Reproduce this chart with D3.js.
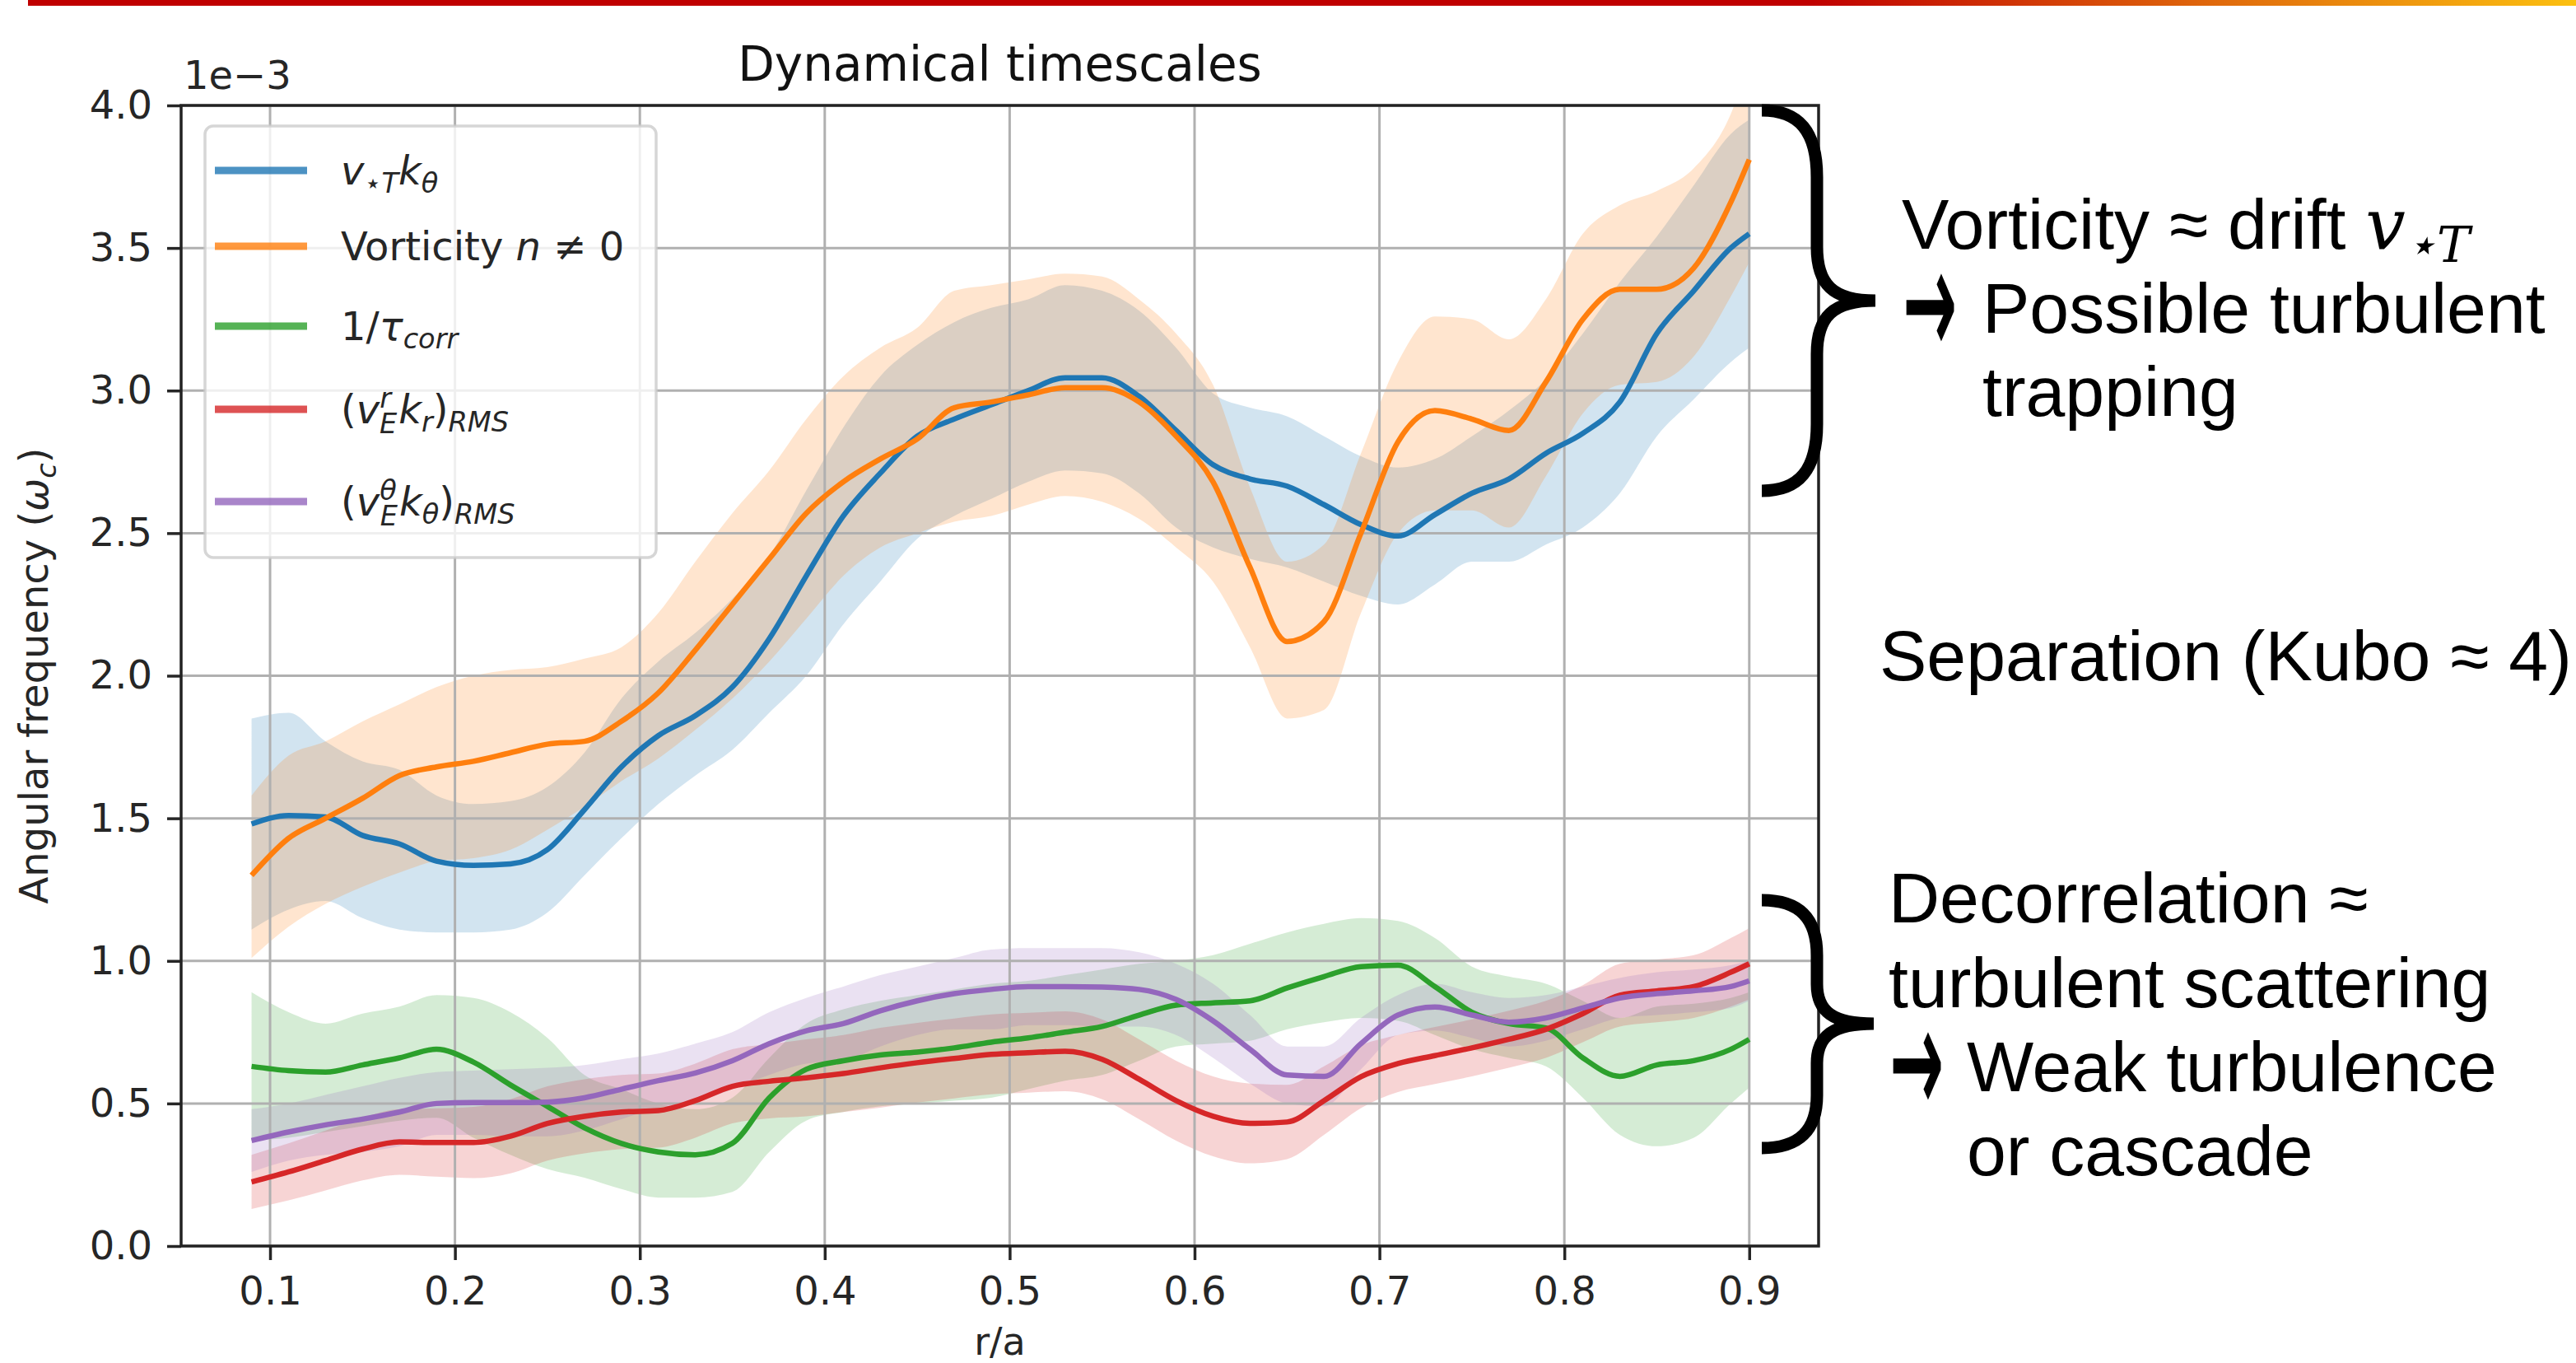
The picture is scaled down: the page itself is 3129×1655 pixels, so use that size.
<!DOCTYPE html>
<html>
<head>
<meta charset="utf-8">
<script src="https://cdn.jsdelivr.net/npm/d3@7"></script>
<style>
  body { margin: 0; background: #fff; }
  svg { display: block; }
</style>
</head>
<body>
<script>
// Chart size and plot box (pixels)
var svgWidth = 3129;
var svgHeight = 1655;
var plot = { left: 220, right: 2209, top: 128, bottom: 1513 };

// radial position r/a, shared by every series
var rPos = [0.09, 0.11, 0.13, 0.15, 0.17, 0.19, 0.21, 0.23, 0.25, 0.27, 0.29, 0.31, 0.33, 0.35,
  0.37, 0.39, 0.41, 0.43, 0.45, 0.47, 0.49, 0.51, 0.53, 0.55, 0.57, 0.59, 0.61, 0.63,
  0.65, 0.67, 0.69, 0.71, 0.73, 0.75, 0.77, 0.79, 0.81, 0.83, 0.85, 0.87, 0.89, 0.90];

// v*T k_theta (units of 1e-3)
var vstarMean = [1.48, 1.51, 1.505, 1.44, 1.41, 1.35, 1.335, 1.34, 1.39, 1.53, 1.68, 1.79, 1.86, 1.96,
  2.13, 2.35, 2.56, 2.71, 2.84, 2.90, 2.95, 3.00, 3.045, 3.045, 2.98, 2.86, 2.74, 2.69,
  2.665, 2.60, 2.53, 2.49, 2.565, 2.64, 2.69, 2.78, 2.85, 2.96, 3.20, 3.35, 3.50, 3.55];
var vstarLow = [1.11, 1.18, 1.21, 1.15, 1.11, 1.10, 1.10, 1.11, 1.17, 1.30, 1.43, 1.55, 1.65, 1.74,
  1.87, 2.0, 2.18, 2.33, 2.48, 2.56, 2.62, 2.68, 2.72, 2.71, 2.64, 2.52, 2.45, 2.41,
  2.38, 2.33, 2.28, 2.25, 2.32, 2.40, 2.40, 2.46, 2.52, 2.64, 2.84, 2.97, 3.10, 3.15];
var vstarHigh = [1.85, 1.87, 1.77, 1.70, 1.67, 1.58, 1.55, 1.56, 1.61, 1.73, 1.92, 2.05, 2.15, 2.27,
  2.42, 2.65, 2.87, 3.05, 3.16, 3.24, 3.29, 3.32, 3.37, 3.35, 3.28, 3.15, 2.99, 2.94,
  2.91, 2.84, 2.77, 2.73, 2.76, 2.84, 2.93, 3.04, 3.20, 3.38, 3.54, 3.72, 3.90, 3.95];

// Vorticity n != 0
var vortMean = [1.30, 1.43, 1.50, 1.57, 1.65, 1.68, 1.70, 1.73, 1.76, 1.77, 1.84, 1.94, 2.09, 2.25,
  2.41, 2.57, 2.68, 2.76, 2.83, 2.94, 2.96, 2.985, 3.01, 3.01, 2.96, 2.84, 2.68, 2.38,
  2.12, 2.19, 2.50, 2.82, 2.93, 2.90, 2.86, 3.03, 3.25, 3.355, 3.355, 3.43, 3.66, 3.81];
var vortLow = [1.01, 1.12, 1.20, 1.26, 1.31, 1.35, 1.36, 1.39, 1.46, 1.54, 1.63, 1.71, 1.81, 1.92,
  2.05, 2.20, 2.35, 2.45, 2.50, 2.54, 2.56, 2.60, 2.63, 2.61, 2.55, 2.45, 2.33, 2.10,
  1.85, 1.88, 2.22, 2.50, 2.58, 2.58, 2.52, 2.70, 2.92, 3.02, 3.03, 3.12, 3.33, 3.45];
var vortHigh = [1.58, 1.72, 1.77, 1.84, 1.90, 1.96, 2.0, 2.02, 2.03, 2.06, 2.10, 2.22, 2.40, 2.57,
  2.72, 2.90, 3.05, 3.15, 3.22, 3.35, 3.37, 3.39, 3.41, 3.40, 3.32, 3.20, 3.02, 2.66,
  2.40, 2.46, 2.78, 3.10, 3.26, 3.25, 3.18, 3.32, 3.55, 3.65, 3.70, 3.78, 3.97, 4.15];

// 1/tau_corr
var corrMean = [0.63, 0.615, 0.61, 0.635, 0.66, 0.69, 0.645, 0.565, 0.49, 0.415, 0.36, 0.33, 0.32, 0.36,
  0.52, 0.62, 0.65, 0.67, 0.68, 0.695, 0.715, 0.73, 0.75, 0.77, 0.81, 0.845, 0.853, 0.86,
  0.905, 0.945, 0.98, 0.985, 0.91, 0.82, 0.78, 0.765, 0.66, 0.595, 0.635, 0.65, 0.69, 0.725];
var corrLow = [0.37, 0.38, 0.40, 0.42, 0.44, 0.45, 0.38, 0.32, 0.27, 0.24, 0.20, 0.17, 0.17, 0.19,
  0.33, 0.44, 0.47, 0.49, 0.50, 0.51, 0.52, 0.55, 0.58, 0.60, 0.65, 0.70, 0.71, 0.72,
  0.76, 0.785, 0.80, 0.79, 0.74, 0.69, 0.66, 0.63, 0.52, 0.39, 0.35, 0.38, 0.50, 0.555];
var corrHigh = [0.89, 0.82, 0.78, 0.815, 0.84, 0.88, 0.87, 0.82, 0.73, 0.60, 0.55, 0.50, 0.48, 0.52,
  0.66, 0.78, 0.83, 0.86, 0.88, 0.90, 0.92, 0.93, 0.95, 0.97, 0.99, 1.0, 1.02, 1.06,
  1.10, 1.13, 1.15, 1.14, 1.08, 0.98, 0.945, 0.92, 0.86, 0.80, 0.84, 0.85, 0.87, 0.89];

// (v_E^r k_r)_RMS
var vrMean = [0.225, 0.26, 0.30, 0.34, 0.365, 0.363, 0.363, 0.385, 0.43, 0.455, 0.47, 0.475, 0.51, 0.56,
  0.578, 0.59, 0.605, 0.625, 0.643, 0.658, 0.672, 0.678, 0.683, 0.655, 0.585, 0.51, 0.455, 0.43,
  0.435, 0.51, 0.594, 0.64, 0.668, 0.695, 0.725, 0.76, 0.815, 0.88, 0.895, 0.91, 0.96, 0.99];
var vrLow = [0.13, 0.16, 0.195, 0.23, 0.25, 0.243, 0.238, 0.255, 0.30, 0.325, 0.34, 0.345, 0.38, 0.43,
  0.448, 0.455, 0.47, 0.485, 0.503, 0.518, 0.532, 0.538, 0.543, 0.515, 0.445, 0.37, 0.315, 0.29,
  0.305, 0.39, 0.484, 0.54, 0.568, 0.595, 0.625, 0.66, 0.715, 0.77, 0.785, 0.80, 0.84, 0.865];
var vrHigh = [0.32, 0.36, 0.405, 0.45, 0.48, 0.483, 0.488, 0.515, 0.56, 0.585, 0.60, 0.605, 0.64, 0.69,
  0.708, 0.725, 0.74, 0.765, 0.783, 0.798, 0.812, 0.818, 0.823, 0.795, 0.725, 0.65, 0.595, 0.57,
  0.565, 0.63, 0.704, 0.74, 0.768, 0.795, 0.825, 0.86, 0.915, 0.99, 1.005, 1.02, 1.08, 1.115];

// (v_E^theta k_theta)_RMS
var vthMean = [0.37, 0.40, 0.425, 0.445, 0.47, 0.50, 0.503, 0.503, 0.505, 0.52, 0.55, 0.58, 0.607, 0.65,
  0.71, 0.755, 0.78, 0.825, 0.86, 0.885, 0.90, 0.91, 0.91, 0.908, 0.90, 0.865, 0.79, 0.69,
  0.60, 0.595, 0.71, 0.81, 0.838, 0.81, 0.785, 0.80, 0.835, 0.87, 0.885, 0.895, 0.91, 0.93];
var vthLow = [0.26, 0.30, 0.32, 0.33, 0.35, 0.39, 0.39, 0.385, 0.385, 0.405, 0.445, 0.485, 0.505, 0.55,
  0.60, 0.64, 0.65, 0.70, 0.74, 0.76, 0.76, 0.775, 0.775, 0.77, 0.77, 0.74, 0.66, 0.57,
  0.50, 0.49, 0.62, 0.74, 0.756, 0.73, 0.70, 0.72, 0.76, 0.80, 0.81, 0.82, 0.835, 0.86];
var vthHigh = [0.48, 0.50, 0.53, 0.56, 0.59, 0.61, 0.615, 0.62, 0.625, 0.635, 0.655, 0.675, 0.71, 0.75,
  0.82, 0.87, 0.91, 0.95, 0.98, 1.01, 1.04, 1.045, 1.045, 1.045, 1.03, 0.99, 0.92, 0.81,
  0.70, 0.70, 0.80, 0.88, 0.92, 0.89, 0.87, 0.88, 0.91, 0.94, 0.96, 0.97, 0.985, 1.0];

// tick labels
var xTicks = [0.1, 0.2, 0.3, 0.4, 0.5, 0.6, 0.7, 0.8, 0.9];
var yTicks = [0, 0.5, 1.0, 1.5, 2.0, 2.5, 3.0, 3.5, 4.0];

var series = [
  { mean: vstarMean, low: vstarLow, high: vstarHigh, color: "#1f77b4" },
  { mean: vortMean, low: vortLow, high: vortHigh, color: "#ff7f0e" },
  { mean: corrMean, low: corrLow, high: corrHigh, color: "#2ca02c" },
  { mean: vrMean, low: vrLow, high: vrHigh, color: "#d62728" },
  { mean: vthMean, low: vthLow, high: vthHigh, color: "#9467bd" }
];

var tickFont = "DejaVu Sans, sans-serif";
var noteFont = "Liberation Sans, Arial, sans-serif";
var ink = "#262626";

var svg = d3.select("body")
  .append("svg")
  .attr("width", svgWidth)
  .attr("height", svgHeight);

svg.append("rect").attr("width", svgWidth).attr("height", svgHeight).attr("fill", "#fff");

var defs = svg.append("defs");
var grad = defs.append("linearGradient").attr("id", "topbar");
grad.append("stop").attr("offset", "0").attr("stop-color", "#c00000");
grad.append("stop").attr("offset", "0.70").attr("stop-color", "#c00000");
grad.append("stop").attr("offset", "0.86").attr("stop-color", "#e06a0c");
grad.append("stop").attr("offset", "1").attr("stop-color", "#fcc010");

defs.append("clipPath").attr("id", "plotclip")
  .append("rect")
  .attr("x", plot.left).attr("y", plot.top)
  .attr("width", plot.right - plot.left)
  .attr("height", plot.bottom - plot.top);

// slide header bar
svg.append("rect")
  .attr("x", 34).attr("y", 0)
  .attr("width", svgWidth - 34).attr("height", 7)
  .attr("fill", "url(#topbar)");

// scales
var x = d3.scaleLinear().domain([0.0519, 0.9375]).range([plot.left, plot.right]);
var y = d3.scaleLinear().domain([0, 4]).range([plot.bottom, plot.top]);

var area = d3.area()
  .x(d => x(d.r))
  .y0(d => y(d.lo))
  .y1(d => y(d.hi))
  .curve(d3.curveMonotoneX);

var line = d3.line()
  .x(d => x(d.r))
  .y(d => y(d.m))
  .curve(d3.curveMonotoneX);

function rows(s) {
  return rPos.map(function(r, i) {
    return { r: r, m: s.mean[i], lo: s.low[i], hi: s.high[i] };
  });
}

var chartGroup = svg.append("g").attr("clip-path", "url(#plotclip)");

// shaded spread bands
series.forEach(function(s) {
  chartGroup.append("path")
    .attr("d", area(rows(s)))
    .attr("fill", s.color)
    .attr("fill-opacity", 0.2);
});

// grid sits above the bands but under the lines
var gridGroup = chartGroup.append("g");
gridGroup.selectAll(".gx")
  .data(xTicks)
  .enter()
  .append("line")
  .attr("x1", d => x(d)).attr("x2", d => x(d))
  .attr("y1", plot.top).attr("y2", plot.bottom)
  .attr("stroke", "#b0b0b0").attr("stroke-width", 3);
gridGroup.selectAll(".gy")
  .data(yTicks)
  .enter()
  .append("line")
  .attr("x1", plot.left).attr("x2", plot.right)
  .attr("y1", d => y(d)).attr("y2", d => y(d))
  .attr("stroke", "#b0b0b0").attr("stroke-width", 3);

series.forEach(function(s) {
  chartGroup.append("path")
    .attr("d", line(rows(s)))
    .attr("fill", "none")
    .attr("stroke", s.color)
    .attr("stroke-width", 6.5);
});

// axes
var xAxis = svg.append("g")
  .attr("transform", `translate(0, ${plot.bottom})`)
  .call(d3.axisBottom(x).tickValues(xTicks).tickSize(17).tickPadding(20).tickFormat(d3.format(".1f")));
var yAxis = svg.append("g")
  .attr("transform", `translate(${plot.left}, 0)`)
  .call(d3.axisLeft(y).tickValues(yTicks).tickSize(17).tickPadding(18).tickFormat(d3.format(".1f")));

[xAxis, yAxis].forEach(function(ax) {
  ax.select(".domain").remove();
  ax.selectAll("line").attr("stroke", ink).attr("stroke-width", 3.5);
  ax.selectAll("text")
    .attr("font-family", tickFont)
    .attr("font-size", 48)
    .attr("fill", ink);
});

// spines
svg.append("rect")
  .attr("x", plot.left).attr("y", plot.top)
  .attr("width", plot.right - plot.left)
  .attr("height", plot.bottom - plot.top)
  .attr("fill", "none")
  .attr("stroke", "#222")
  .attr("stroke-width", 3.5);

// writes a label made of parts, shifting baseline for sub / superscripts
function mathText(sel, parts, size) {
  var cur = 0;
  parts.forEach(function(p) {
    var sh = p.s || 0;
    var ts = sel.append("tspan").text(p.t).attr("dy", sh - cur);
    cur = sh;
    if (p.i) ts.attr("font-style", "italic");
    if (p.sm) ts.attr("font-size", size * 0.7);
    if (p.dx) ts.attr("dx", p.dx);
    if (p.f) ts.attr("font-family", p.f);
  });
}

// title, offset text, axis labels
svg.append("text")
  .attr("x", (plot.left + plot.right) / 2).attr("y", 98)
  .attr("text-anchor", "middle")
  .attr("font-family", tickFont).attr("font-size", 58).attr("fill", "#111")
  .text("Dynamical timescales");

svg.append("text")
  .attr("x", 223).attr("y", 108)
  .attr("font-family", tickFont).attr("font-size", 48).attr("fill", ink)
  .text("1e\u22123");

svg.append("text")
  .attr("x", (plot.left + plot.right) / 2).attr("y", 1645)
  .attr("text-anchor", "middle")
  .attr("font-family", tickFont).attr("font-size", 46).attr("fill", ink)
  .text("r/a");

var yLabel = svg.append("text")
  .attr("transform", `translate(58, ${(plot.top + plot.bottom) / 2}) rotate(-90)`)
  .attr("text-anchor", "middle")
  .attr("font-family", tickFont).attr("font-size", 48).attr("fill", ink);
mathText(yLabel, [
  { t: "Angular frequency (" }, { t: "\u03c9", i: 1 }, { t: "c", i: 1, sm: 1, s: 10 }, { t: ")", s: 0 }
], 48);

// legend
var legendRows = [
  { y: 207, parts: [{ t: "v", i: 1 }, { t: "\u22c6T", i: 1, sm: 1, s: 10 }, { t: "k", i: 1, s: 0 }, { t: "\u03b8", i: 1, sm: 1, s: 10 }] },
  { y: 299, parts: [{ t: "Vorticity " }, { t: "n", i: 1 }, { t: " \u2260 0" }] },
  { y: 396, parts: [{ t: "1/" }, { t: "\u03c4", i: 1 }, { t: "corr", i: 1, sm: 1, s: 10 }] },
  { y: 497, parts: [{ t: "(" }, { t: "v", i: 1 }, { t: "r", i: 1, sm: 1, s: -19 }, { t: "E", i: 1, sm: 1, s: 12, dx: -14 },
    { t: "k", i: 1, s: 0, dx: 2 }, { t: "r", i: 1, sm: 1, s: 10 }, { t: ")", s: 0 }, { t: "RMS", i: 1, sm: 1, s: 10 }] },
  { y: 609, parts: [{ t: "(" }, { t: "v", i: 1 }, { t: "\u03b8", i: 1, sm: 1, s: -19 }, { t: "E", i: 1, sm: 1, s: 12, dx: -20 },
    { t: "k", i: 1, s: 0, dx: 2 }, { t: "\u03b8", i: 1, sm: 1, s: 10 }, { t: ")", s: 0 }, { t: "RMS", i: 1, sm: 1, s: 10 }] }
];

var legend = svg.append("g");
legend.append("rect")
  .attr("x", 249).attr("y", 153)
  .attr("width", 548).attr("height", 524)
  .attr("rx", 10)
  .attr("fill", "#fff").attr("fill-opacity", 0.8)
  .attr("stroke", "#cccccc").attr("stroke-opacity", 0.8)
  .attr("stroke-width", 3.5);

legendRows.forEach(function(row, i) {
  legend.append("line")
    .attr("x1", 261).attr("x2", 373)
    .attr("y1", row.y).attr("y2", row.y)
    .attr("stroke", series[i].color)
    .attr("stroke-opacity", 0.8)
    .attr("stroke-width", 9);
  var t = legend.append("text")
    .attr("x", 414).attr("y", row.y + 17)
    .attr("font-family", tickFont).attr("font-size", 48).attr("fill", ink);
  mathText(t, row.parts, 48);
});

// annotations at the right
var braces = [
  "M2140,134 C2186,134 2207,160 2207,215 L2207,300 C2207,345 2226,365 2278,365 C2226,365 2207,385 2207,430 L2207,515 C2207,570 2186,596 2140,596",
  "M2140,1093 C2186,1093 2207,1115 2207,1160 L2207,1195 C2207,1228 2226,1243 2276,1243 C2226,1243 2207,1258 2207,1291 L2207,1330 C2207,1372 2186,1394 2140,1394"
];
svg.selectAll(".brace")
  .data(braces)
  .enter()
  .append("path")
  .attr("d", d => d)
  .attr("fill", "none")
  .attr("stroke", "#000")
  .attr("stroke-width", 15);

var notes = [
  { x: 2310, y: 302, text: "Vorticity \u2248 drift " },
  { x: 2408, y: 404, text: "Possible turbulent" },
  { x: 2408, y: 505, text: "trapping" },
  { x: 2283, y: 826, text: "Separation (Kubo \u2248 4)" },
  { x: 2294, y: 1120, text: "Decorrelation \u2248" },
  { x: 2294, y: 1223, text: "turbulent scattering" },
  { x: 2389, y: 1325, text: "Weak turbulence" },
  { x: 2389, y: 1427, text: "or cascade" }
];

var noteSel = svg.selectAll(".note")
  .data(notes)
  .enter()
  .append("text")
  .attr("x", d => d.x).attr("y", d => d.y)
  .attr("font-family", noteFont).attr("font-size", 86).attr("fill", "#000")
  .text(d => d.text);

// big arrows in front of the conclusions, stretched to the slide's glyph shape
var arrows = [{ x: 2312, y: 404 }, { x: 2296, y: 1325 }];
svg.selectAll(".arrow")
  .data(arrows)
  .enter()
  .append("text")
  .attr("transform", d => `translate(${d.x}, ${d.y + 26}) scale(0.7, 1.65)`)
  .attr("font-family", tickFont)
  .attr("font-size", 110).attr("fill", "#000")
  .attr("stroke", "#000").attr("stroke-width", 2)
  .text("\u2192");

// v_{*T} in math italic after "drift"
var vSym = d3.select(noteSel.nodes()[0]);
mathText(vSym, [
  { t: "v", i: 1, f: "DejaVu Serif, serif" },
  { t: "\u22c6T", i: 1, sm: 1, s: 16, f: "DejaVu Serif, serif" }
], 86);
</script>
</body>
</html>
